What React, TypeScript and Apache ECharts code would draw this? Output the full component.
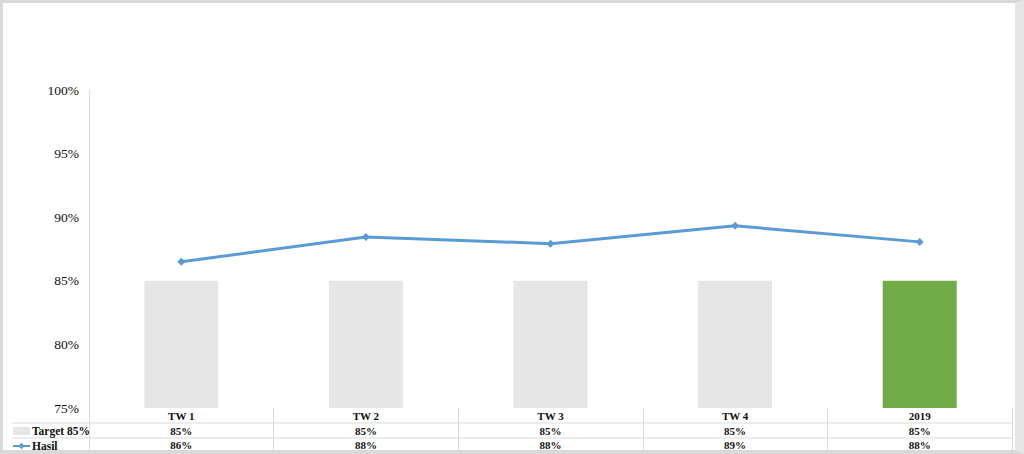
import React, { useEffect, useRef } from "react";
import * as echarts from "echarts";

const categories = ["TW 1", "TW 2", "TW 3", "TW 4", "2019"];
const targetValues = [0.85, 0.85, 0.85, 0.85, 0.85];
const hasilValues = [0.8649, 0.8845, 0.8792, 0.8932, 0.8806];
const yTicks = { min: 0.75, max: 1.0, interval: 0.05 };
const targetName = "Target 85%";
const hasilName = "Hasil";

const pct = (v: number) => Math.round(v * 100) + "%";
const FONT = "'Liberation Serif', 'Times New Roman', serif";

export default function App() {
  const ref = useRef<HTMLDivElement>(null);
  useEffect(() => {
    document.body.style.margin = "0";
    if (!ref.current) return;
    const chart = echarts.init(ref.current, undefined, { renderer: "svg" });
    const tableAxis = (data: string[], offset: number) => ({
      type: "category",
      data,
      position: "bottom",
      offset,
      gridIndex: 0,
      axisLine: { show: false },
      axisTick: { show: false },
      axisLabel: {
        margin: 2,
        fontFamily: FONT,
        fontWeight: "bold",
        fontSize: 11,
        color: "#111111",
        interval: 0,
      },
    });
    chart.setOption({
      animation: false,
      backgroundColor: "#ffffff",
      grid: { left: 89, right: 12, top: 90, bottom: 46, containLabel: false },
      legend: {
        orient: "vertical",
        left: 12,
        top: 425,
        height: 30,
        padding: 0,
        itemWidth: 17,
        itemHeight: 8,
        itemGap: 3,
        selectedMode: false,
        textStyle: {
          fontFamily: FONT,
          fontWeight: "bold",
          fontSize: 11.5,
          lineHeight: 12,
          color: "#111111",
          padding: [0, 0, 0, -3],
        },
        data: [{ name: targetName, icon: "rect" }, { name: hasilName }],
      },
      xAxis: [
        {
          type: "category",
          data: categories,
          position: "bottom",
          axisLine: { show: false },
          axisTick: {
            show: true,
            inside: false,
            length: 44,
            lineStyle: { color: "#d9d9d9", width: 1 },
          },
          axisLabel: {
            margin: 2,
            fontFamily: FONT,
            fontWeight: "bold",
            fontSize: 11,
            color: "#111111",
            interval: 0,
          },
        },
        tableAxis(targetValues.map(pct), 15),
        tableAxis(hasilValues.map(pct), 29),
      ],
      yAxis: {
        type: "value",
        min: yTicks.min,
        max: yTicks.max,
        interval: yTicks.interval,
        axisLine: { show: true, lineStyle: { color: "#d9d9d9", width: 1 } },
        axisTick: { show: false },
        splitLine: { show: false },
        axisLabel: {
          margin: 10,
          fontFamily: FONT,
          fontSize: 13.5,
          color: "#111111",
          formatter: (v: number) => Math.round(v * 100) + "%",
        },
      },
      graphic: [
        {
          type: "line",
          shape: { x1: 12, y1: 423, x2: 1012, y2: 423 },
          style: { stroke: "#d9d9d9", lineWidth: 1 },
          silent: true,
        },
        {
          type: "line",
          shape: { x1: 12, y1: 438, x2: 1012, y2: 438 },
          style: { stroke: "#d9d9d9", lineWidth: 1 },
          silent: true,
        },
      ],
      series: [
        {
          name: targetName,
          type: "bar",
          barWidth: 74,
          itemStyle: { color: "#e7e6e6" },
          data: targetValues.map((v, i) =>
            i === categories.length - 1
              ? { value: v, itemStyle: { color: "#70ad47" } }
              : v
          ),
          z: 1,
        },
        {
          name: hasilName,
          type: "line",
          data: hasilValues,
          symbol: "diamond",
          symbolSize: 8,
          lineStyle: { color: "#5b9bd5", width: 3 },
          itemStyle: { color: "#5b9bd5" },
          z: 3,
        },
      ],
    });
    return () => chart.dispose();
  }, []);
  return (
    <div style={{ position: "relative", width: 1024, height: 454 }}>
      <div ref={ref} style={{ width: 1024, height: 454 }} />
      <div
        style={{
          position: "absolute",
          left: 0,
          top: 0,
          width: 1024,
          height: 454,
          boxSizing: "border-box",
          borderLeft: "3px solid #d9d9d9",
          borderTop: "3px solid #d9d9d9",
          borderRight: "9px solid #e6e6e6",
          borderBottom: "4px solid #d9d9d9",
          pointerEvents: "none",
        }}
      />
    </div>
  );
}
